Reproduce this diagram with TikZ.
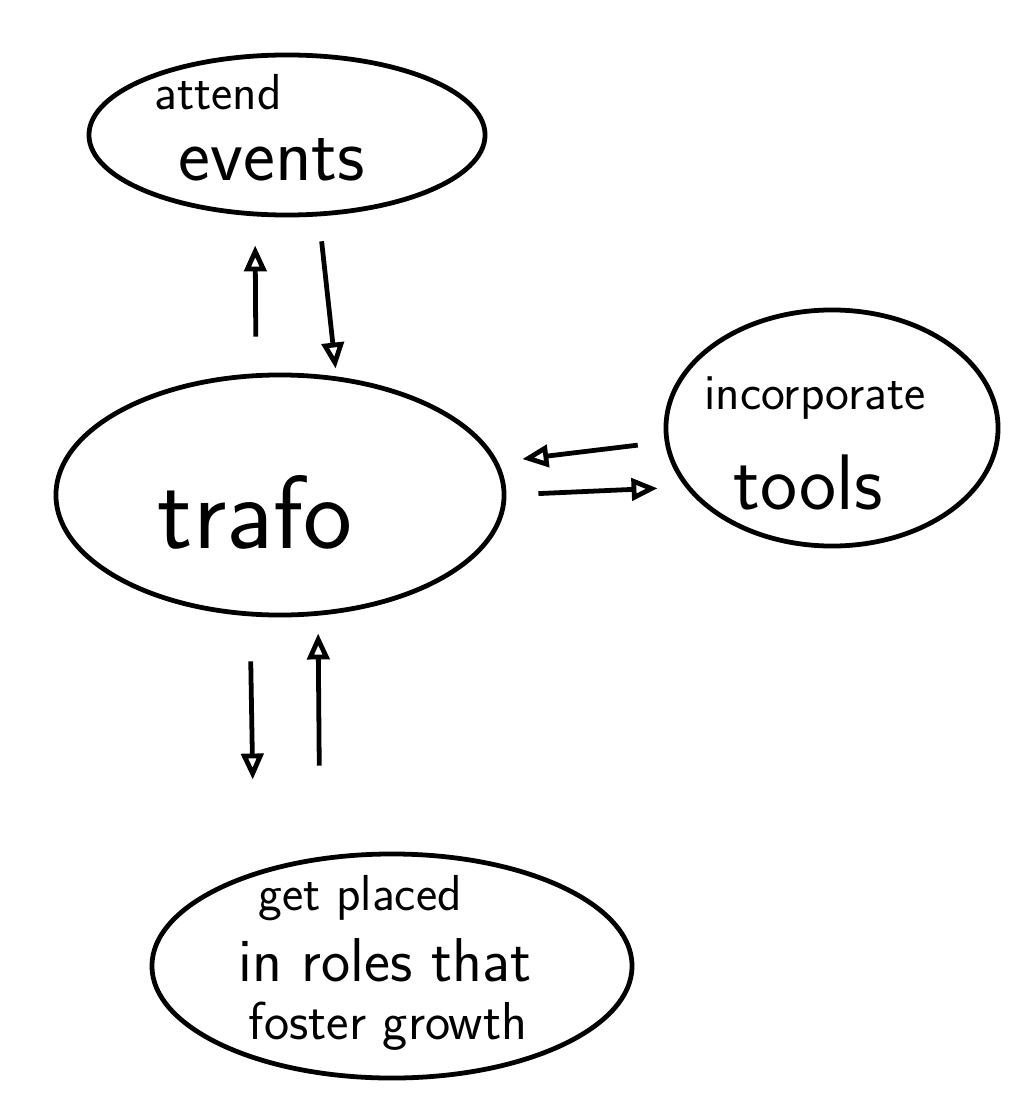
\documentclass[tikz,border=0pt]{standalone}
\usepackage{tikz}
\usetikzlibrary{positioning,arrows.meta,shapes.geometric,calc}

\begin{document}
\begin{tikzpicture}[x=0.025cm, y=-0.025cm,
  every node/.style={font=\sffamily},
  goal/.style={draw, ellipse, line width=3.4pt, inner sep=0pt},
  lbl/.style={inner sep=0pt},
  msg/.style={-{Triangle[open, length=6.5mm, width=5.5mm]}, line width=3.4pt},
]
  \useasboundingbox (0,0) rectangle (1016,1109);

  % Four goals
  \node[goal, minimum width=9.9cm, minimum height=4cm] (events) at (287,135) {};
  \node[goal, minimum width=11.2cm, minimum height=6cm] (trafo) at (280,495) {};
  \node[goal, minimum width=8.3cm, minimum height=5.9cm] (tools) at (832,428) {};
  \node[goal, minimum width=12cm, minimum height=5.6cm] (roles) at (392,966) {};

  % Their texts, one node a line
  \node[lbl, font=\sffamily\fontsize{36}{40}\selectfont] (attendText) at (218,92) {attend};
  \node[lbl, font=\sffamily\fontsize{54}{58}\selectfont] (eventsText) at (272,160) {events};
  \node[lbl, font=\sffamily\fontsize{74}{78}\selectfont] (trafoText) at (255,512) {trafo};
  \node[lbl, font=\sffamily\fontsize{36}{40}\selectfont] (incorpText) at (815,398) {incorporate};
  \node[lbl, font=\sffamily\fontsize{56}{60}\selectfont] (toolsText) at (808,482) {tools};
  \node[lbl, font=\sffamily\fontsize{36}{40}\selectfont] (placedText) at (360,898) {get placed};
  \node[lbl, font=\sffamily\fontsize{44}{48}\selectfont] (rolesText) at (385,960) {in roles that};
  \node[lbl, font=\sffamily\fontsize{38}{42}\selectfont] (growthText) at (388,1026) {foster growth};

  % Arrows in pairs between the goals
  \draw[msg, shorten <=0.9cm, shorten >=0.7cm]
    ([xshift=-0.6cm]trafo.north) -- ([xshift=-0.8cm]events.south);
  \draw[msg, shorten <=0.6cm, shorten >=0.1cm]
    ([xshift=0.8cm]events.south) -- ([xshift=1.4cm]trafo.north);
  \draw[msg, shorten <=0.65cm, shorten >=0.4cm]
    ([yshift=-0.35cm]tools.west) -- ([yshift=0.85cm]trafo.east);
  \draw[msg, shorten <=0.8cm, shorten >=0.15cm]
    (trafo.east) -- ([yshift=-1.5cm]tools.west);
  \draw[msg, shorten <=1.1cm, shorten >=1.8cm]
    ([xshift=-0.75cm]trafo.south) -- ([xshift=-3.45cm]roles.north);
  \draw[msg, shorten <=2.15cm, shorten >=0.4cm]
    ([xshift=-1.8cm]roles.north) -- ([xshift=0.95cm]trafo.south);
\end{tikzpicture}
\end{document}
